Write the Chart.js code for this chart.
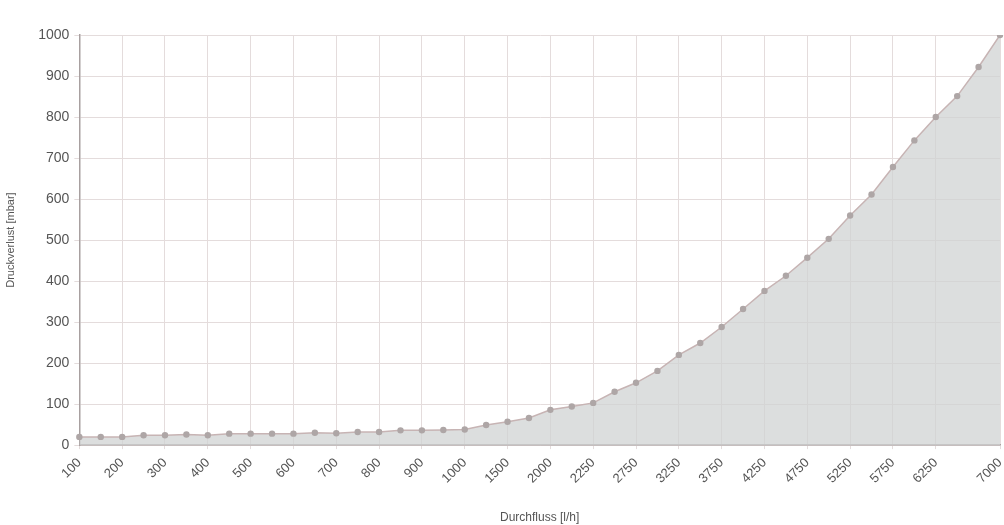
<!DOCTYPE html>
<html>
<head>
<meta charset="utf-8">
<script src="https://cdn.jsdelivr.net/npm/chart.js@4/dist/chart.umd.min.js"></script>
<style>
  html, body { margin: 0; padding: 0; background: #fff; }
</style>
</head>
<body>
<canvas id="chart" width="1004" height="525"></canvas>
<script>
/* Druckverlust vs. Durchfluss – area line chart */

const flow = ["100", "150", "200", "250", "300", "350", "400", "450", "500", "550",
  "600", "650", "700", "750", "800", "850", "900", "950", "1000", "1250",
  "1500", "1750", "2000", "2125", "2250", "2500", "2750", "3000", "3250", "3500",
  "3750", "4000", "4250", "4500", "4750", "5000", "5250", "5500", "5750", "6000",
  "6250", "6500", "6750", "7000"];

const pressureLoss = [20, 20, 20, 24, 24, 26, 24, 28, 28, 28,
  28, 30, 29, 32, 32, 36, 36, 37, 38, 49,
  57, 66, 86, 94, 103, 130, 152, 181, 220, 249,
  288, 332, 376, 413, 457, 503, 560, 611, 678, 743,
  800, 851, 922, 1000];

const xTickLabels = ["100", "200", "300", "400", "500", "600", "700", "800", "900", "1000",
  "1500", "2000", "2250", "2750", "3250", "3750", "4250", "4750", "5250", "5750", "6250", "7000"];

const yTicks = [0, 100, 200, 300, 400, 500, 600, 700, 800, 900, 1000];

const GRID = "#e4dcdc";
const AXIS = "#a8a0a0";
const TEXT = "#555";
const FONT = "'Liberation Sans', Arial, sans-serif";

const shown = (i) => xTickLabels.includes(flow[i]);

new Chart(document.getElementById("chart"), {
  type: "line",
  data: {
    labels: flow,
    datasets: [{
      label: "Druckverlust",
      data: pressureLoss,
      fill: "origin",
      backgroundColor: "rgba(208,211,211,0.75)",
      borderColor: "#c7b4b4",
      borderWidth: 1.5,
      pointRadius: 3.2,
      pointBackgroundColor: "#aea6a6",
      pointBorderWidth: 0,
      tension: 0,
    }],
  },
  options: {
    responsive: false,
    animation: false,
    layout: { padding: { left: 4, right: 4, top: 35, bottom: 0 } },
    plugins: { legend: { display: false }, tooltip: { enabled: false } },
    scales: {
      x: {
        offset: false,
        afterFit: (scale) => { scale.paddingRight = 0; },
        grid: {
          color: (ctx) => (shown(ctx.index) ? GRID : "rgba(0,0,0,0)"),
          tickLength: 4,
        },
        border: { color: AXIS, width: 1.5 },
        ticks: {
          autoSkip: false,
          maxRotation: 45,
          minRotation: 45,
          color: TEXT,
          font: { family: FONT, size: 13 },
          padding: 6,
          callback: (v, i) => (shown(i) ? flow[i] : ""),
        },
        title: {
          display: true,
          text: "Durchfluss [l/h]",
          color: TEXT,
          font: { family: FONT, size: 12 },
          padding: { top: 18, bottom: 0 },
        },
      },
      y: {
        min: 0,
        max: 1000,
        afterBuildTicks: (axis) => { axis.ticks = yTicks.map((v) => ({ value: v })); },
        grid: { color: GRID, tickLength: 5 },
        border: { color: AXIS, width: 1.5 },
        ticks: {
          color: TEXT,
          font: { family: FONT, size: 14 },
          padding: 5,
          callback: (v) => String(v),
        },
        title: {
          display: true,
          text: "Druckverlust [mbar]",
          color: TEXT,
          font: { family: FONT, size: 11 },
          padding: { top: 0, bottom: 16 },
        },
      },
    },
  },
});
</script>
</body>
</html>
